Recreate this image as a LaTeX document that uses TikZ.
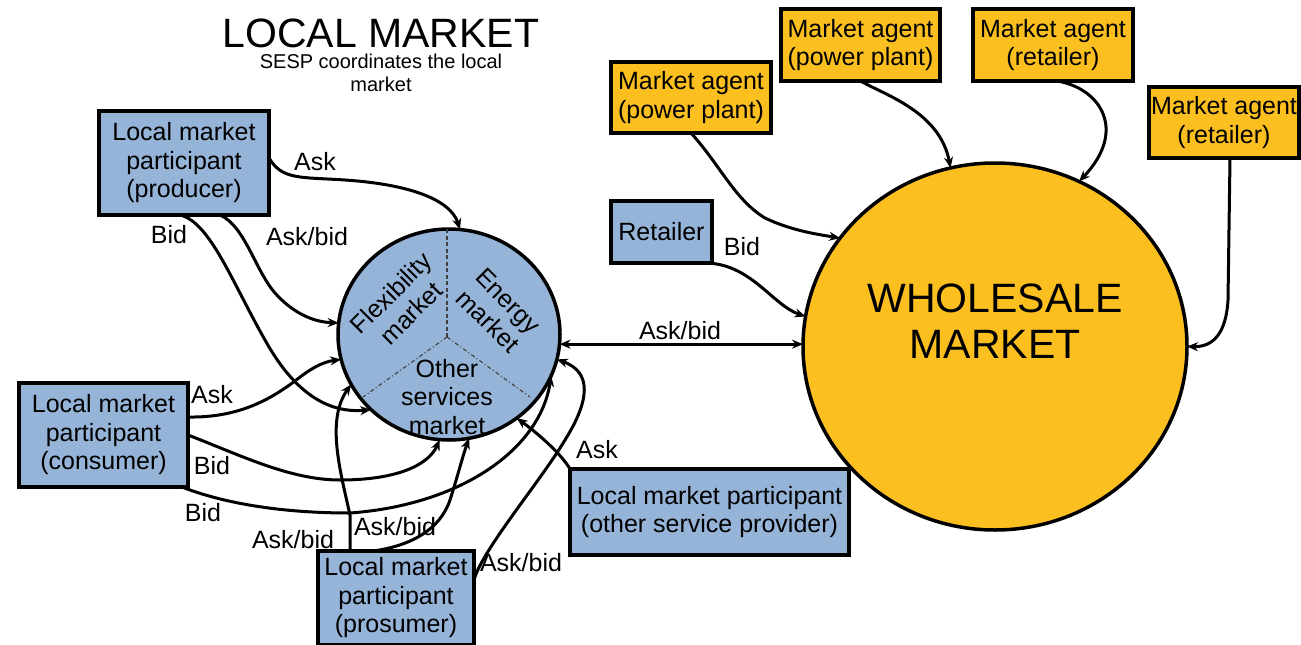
\documentclass[tikz,border=0pt]{standalone}
\usepackage{fontspec}
\setmainfont{Liberation Sans}
\usetikzlibrary{arrows.meta,shapes.geometric}
\definecolor{lmblue}{RGB}{150,180,216}
\definecolor{wmorange}{RGB}{252,191,32}
\begin{document}
\begin{tikzpicture}[x=1pt,y=-1pt,
  every node/.style={inner sep=0pt, outer sep=0pt},
  txt/.style={font=\fontsize{25}{28.5}\selectfont, align=center},
  bluebox/.style={txt, draw=black, line width=3.5pt, fill=lmblue},
  agentbox/.style={txt, draw=black, line width=3.5pt, fill=wmorange},
  market/.style={ellipse, draw=black, line width=3.5pt},
  flow/.style={line width=3pt, -{Stealth[length=11pt,width=9pt]}},
  twoway/.style={line width=3pt, {Stealth[length=11pt,width=9pt]}-{Stealth[length=11pt,width=9pt]}},
  lbl/.style={font=\fontsize{25}{28}\selectfont},
  divider/.style={line width=1.1pt, black!75},
]
\useasboundingbox (0,0) rectangle (1301,645);

% headings
\node[font=\fontsize{41}{44}\selectfont, anchor=base] (title) at (381,47) {LOCAL MARKET};
\node[font=\fontsize{20}{23}\selectfont, align=center] (sub) at (381,73) {SESP coordinates the local\\market};

% the two markets
\node[market, fill=lmblue, minimum width=222pt, minimum height=211pt] (loc) at (449,334.5) {};
\node[market, fill=wmorange, minimum width=384pt, minimum height=367pt] (whole) at (995,346.5) {};

% sectors of the local market
\coordinate (hub) at (447,337);
\draw[divider, dash pattern=on 4pt off 2.5pt] (hub) -- (hub |- loc.north);
\draw[divider, dash pattern=on 4pt off 2.5pt on 1pt off 2.5pt] (hub) -- (363,397);
\draw[divider, dash pattern=on 4pt off 2.5pt on 1pt off 2.5pt] (hub) -- (530,397);

% participants
\node[bluebox, minimum width=170pt, minimum height=104pt] (prod) at (184,163) {Local market\\participant\\(producer)};
\node[bluebox, minimum width=169pt, minimum height=104pt] (cons) at (103.5,435) {Local market\\participant\\(consumer)};
\node[bluebox, minimum width=156pt, minimum height=94pt] (pros) at (396,598) {Local market\\participant\\(prosumer)};
\node[bluebox, minimum width=279pt, minimum height=86pt] (osp) at (709.5,512) {Local market participant\\(other service provider)};
\node[bluebox, minimum width=101pt, minimum height=62pt] (ret) at (661.5,232) {Retailer};

% wholesale market agents
\node[agentbox, minimum width=160pt, minimum height=71pt] (ag1) at (691,97.5) {Market agent\\(power plant)};
\node[agentbox, minimum width=159pt, minimum height=72pt] (ag2) at (860.5,45) {Market agent\\(power plant)};
\node[agentbox, minimum width=160pt, minimum height=72pt] (ag3) at (1053,45) {Market agent\\(retailer)};
\node[agentbox, minimum width=150pt, minimum height=71pt] (ag4) at (1224,122.5) {Market agent\\(retailer)};

% producer
\draw[flow] ([yshift=5pt]prod.east) .. controls (282,180) and (300,177) .. (345,180) .. controls (405,184) and (450,198) .. (loc.84);
\draw[flow] ([xshift=36pt]prod.south) .. controls (245,226) and (255,270) .. (275,293) .. controls (292,312) and (312,322) .. (loc.174);
\draw[flow] ([xshift=-4pt]prod.south) .. controls (210,222) and (232,282) .. (265,340) .. controls (290,385) and (322,414) .. (loc.224);

% consumer
\draw[flow] ([yshift=18pt]cons.east) .. controls (240,418) and (272,398) .. (295,381) .. controls (310,369) and (322,362) .. (loc.193);
\draw[flow] (cons.east) .. controls (240,455) and (290,480) .. (340,480) .. controls (395,480) and (428,466) .. (loc.265);
\draw[flow] ([xshift=-6pt]cons.south east) .. controls (215,500) and (270,513) .. (350,513) .. controls (460,505) and (540,450) .. (loc.338);

% prosumer
\draw[flow] ([xshift=-46pt]pros.north) -- (350,515) .. controls (340,470) and (326,420) .. (loc.207);
\draw[flow] ([xshift=-23pt]pros.north) .. controls (410,546) and (440,530) .. (450,500) .. controls (458,475) and (463,455) .. (loc.281);
\draw[flow] ([yshift=18pt]pros.east) .. controls (482,550) and (540,482) .. (565,440) .. controls (590,400) and (592,372) .. (loc.347);

% other service provider
\draw[flow] (osp.north west) .. controls (562,455) and (540,435) .. (loc.309);

% local <-> wholesale
\draw[twoway] (loc.-5) -- (loc.-5 -| whole.west);

% into the wholesale market
\draw[flow] ([xshift=-9pt]ret.south east) .. controls (750,262) and (772,305) .. (whole.171);
\draw[flow] (ag1.south) .. controls (720,165) and (735,200) .. (765,218) .. controls (790,230) and (815,234) .. (whole.145);
\draw[flow] (ag2.south) .. controls (885,95) and (940,112) .. (whole.104);
\draw[flow] ([xshift=4pt]ag3.south) .. controls (1100,88) and (1128,130) .. (whole.63);
\draw[flow] ([xshift=6pt]ag4.south) -- (1228,300) .. controls (1226,335) and (1212,347) .. (whole.0);

% market names
\node[txt, rotate=45] (flex) at (401,303) {Flexibility\\market};
\node[txt, rotate=-45] (energy) at (498,311) {Energy\\market};
\node[txt] (other) at (447,397) {Other\\services\\market};
\node[font=\fontsize{41}{46}\selectfont, align=center] (wtext) at (995,321) {WHOLESALE\\MARKET};

% connector labels
\node[lbl] (l1) at (315,162) {Ask};
\node[lbl] (l2) at (169,235) {Bid};
\node[lbl] (l3) at (307,237) {Ask/bid};
\node[lbl] (l4) at (212,395) {Ask};
\node[lbl] (l5) at (212,466) {Bid};
\node[lbl] (l6) at (203,513) {Bid};
\node[lbl] (l7) at (293,540) {Ask/bid};
\node[lbl] (l8) at (395,527) {Ask/bid};
\node[lbl] (l9) at (521,563) {Ask/bid};
\node[lbl] (l10) at (597,450) {Ask};
\node[lbl] (l11) at (680,331) {Ask/bid};
\node[lbl] (l12) at (742,247) {Bid};
\end{tikzpicture}
\end{document}
